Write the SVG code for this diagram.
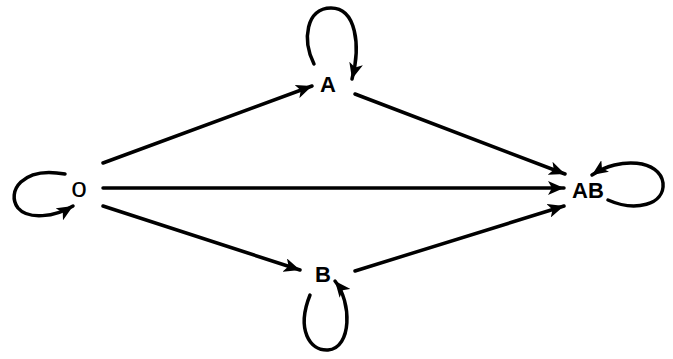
<svg xmlns="http://www.w3.org/2000/svg" width="673" height="359" viewBox="0 0 673 359">
<style>
.edge{fill:none;stroke:#000;stroke-width:3.5;stroke-linecap:round;marker-end:url(#ah)}
.lbl{font-family:"Liberation Sans",Arial,sans-serif;font-size:22px;font-weight:bold;fill:#000;text-anchor:middle}
</style>
<defs>
<marker id="ah" markerUnits="userSpaceOnUse" markerWidth="18" markerHeight="14" refX="16" refY="7" orient="auto">
<path d="M0,0 L16,7 L0,14 L4,7 Z" fill="#000"/>
</marker>
</defs>
<rect width="673" height="359" fill="#fff"/>
<g id="connectors">
<path class="edge" d="M103,163 L312,86"/>
<path class="edge" d="M103,188 L564,188"/>
<path class="edge" d="M103,206 L300,270"/>
<path class="edge" d="M355,94 L565,174"/>
<path class="edge" d="M355,271 L564,206"/>
<path class="edge" d="M65,174 C22,166 6,192 18,208 C28,220 55,217 73,206"/>
<path class="edge" d="M314,64 C302,40 306,8 331,8 C356,8 361,45 352,79"/>
<path class="edge" d="M310,295 C296,330 310,351 328,350 C352,348 352,302 335,281"/>
<path class="edge" d="M608,200 C635,212 665,205 663,183 C660,160 620,156 592,175"/>
</g>
<g id="node-O"><text x="79" y="197" font-family="Liberation Sans,Arial,sans-serif" font-size="28" text-anchor="middle">o</text></g>
<g id="node-A"><text class="lbl" x="328" y="92">A</text></g>
<g id="node-B"><text class="lbl" x="323" y="282">B</text></g>
<g id="node-AB"><text class="lbl" x="588" y="198">AB</text></g>
</svg>
